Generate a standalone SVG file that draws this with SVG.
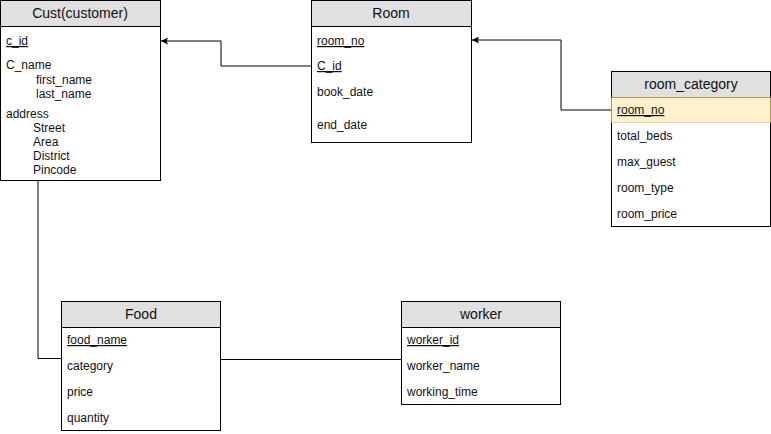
<svg xmlns="http://www.w3.org/2000/svg" width="771" height="434" viewBox="0 0 771 434">
<defs>
<marker id="arr" viewBox="0 0 10 10" refX="10" refY="5" markerWidth="7" markerHeight="7" markerUnits="userSpaceOnUse" orient="auto"><path d="M0,0 L10,5 L0,10 L2,5 Z" fill="#000"/></marker>
<style>
.box{fill:#fff;stroke:#000;stroke-width:1}
.hdr{fill:#e0e0e0;stroke:#000;stroke-width:1}
.ttl{font-family:"Liberation Sans",Arial,sans-serif;font-size:14px;fill:#111;text-anchor:middle}
.t{font-family:"Liberation Sans",Arial,sans-serif;font-size:12px;fill:#111}
.u{text-decoration:underline}
.conn{fill:none;stroke:#000;stroke-width:1}
</style>
</defs>
<rect width="771" height="434" fill="#fff"/>
<g id="connectors">
<path class="conn" d="M311,66 H221 V41 H161" marker-end="url(#arr)"/>
<path class="conn" d="M611,110 H561 V40 H472" marker-end="url(#arr)"/>
<path class="conn" d="M38,180.5 V358.5 H63"/>
<path class="conn" d="M221,359.5 H401"/>
</g>
<g id="cust">
<rect class="box" x="0.5" y="0.5" width="160" height="180"/>
<rect class="hdr" x="0.5" y="0.5" width="160" height="26"/>
<text class="ttl" x="80" y="18">Cust(customer)</text>
<text class="t u" x="6" y="45">c_id</text>
<text class="t" x="6" y="69">C_name</text>
<text class="t" x="36" y="84">first_name</text>
<text class="t" x="36" y="98">last_name</text>
<text class="t" x="6" y="118">address</text>
<text class="t" x="33" y="132">Street</text>
<text class="t" x="33" y="146">Area</text>
<text class="t" x="33" y="160">District</text>
<text class="t" x="33" y="174">Pincode</text>
</g>
<g id="room">
<rect class="box" x="311.5" y="0.5" width="160" height="142"/>
<rect class="hdr" x="311.5" y="0.5" width="160" height="26"/>
<text class="ttl" x="391" y="18">Room</text>
<text class="t u" x="317" y="45">room_no</text>
<text class="t u" x="317" y="70">C_id</text>
<text class="t" x="317" y="96">book_date</text>
<text class="t" x="317" y="129">end_date</text>
</g>
<g id="room_category">
<rect class="box" x="611.5" y="71.5" width="159" height="155"/>
<rect class="hdr" x="611.5" y="71.5" width="159" height="26"/>
<rect x="611.5" y="97.5" width="159" height="25" fill="#fff2cc" stroke="#d6b656" stroke-dasharray="1,1"/>
<text class="ttl" x="691" y="89">room_category</text>
<text class="t u" x="617" y="114">room_no</text>
<text class="t" x="617" y="140">total_beds</text>
<text class="t" x="617" y="166">max_guest</text>
<text class="t" x="617" y="192">room_type</text>
<text class="t" x="617" y="218">room_price</text>
</g>
<g id="food">
<rect class="box" x="61.5" y="301.5" width="159" height="129"/>
<rect class="hdr" x="61.5" y="301.5" width="159" height="26"/>
<text class="ttl" x="141" y="319">Food</text>
<text class="t u" x="67" y="344">food_name</text>
<text class="t" x="67" y="370">category</text>
<text class="t" x="67" y="396">price</text>
<text class="t" x="67" y="422">quantity</text>
</g>
<g id="worker">
<rect class="box" x="401.5" y="301.5" width="159" height="103"/>
<rect class="hdr" x="401.5" y="301.5" width="159" height="26"/>
<text class="ttl" x="481" y="319">worker</text>
<text class="t u" x="407" y="344">worker_id</text>
<text class="t" x="407" y="370">worker_name</text>
<text class="t" x="407" y="396">working_time</text>
</g>
</svg>
